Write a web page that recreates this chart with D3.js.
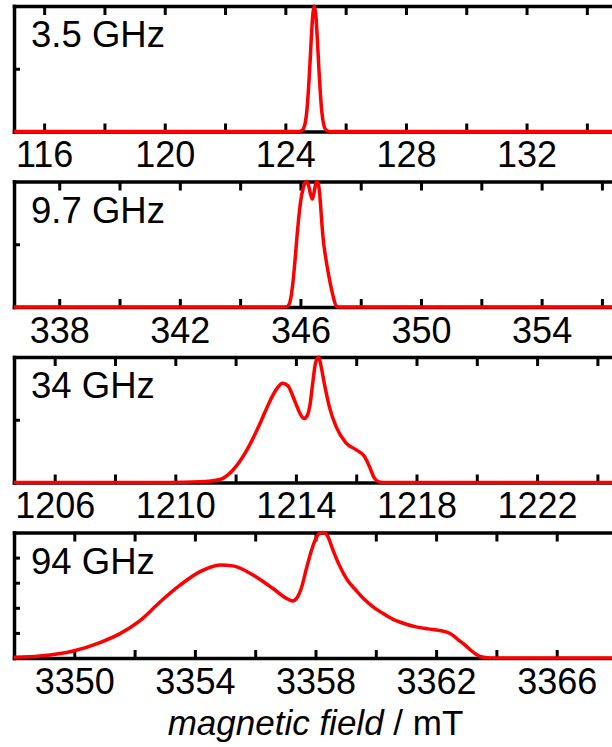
<!DOCTYPE html>
<html>
<head>
<meta charset="utf-8">
<script src="https://cdn.jsdelivr.net/npm/d3@7"></script>
<style>
  html, body { margin: 0; padding: 0; background: #fff; }
  svg { display: block; }
</style>
</head>
<body>
<svg id="chart" width="612" height="747"></svg>
<script>
// EPR absorption spectra at four microwave frequencies (normalised intensity vs field in mT)

const frequencyLabels = ["3.5 GHz", "9.7 GHz", "34 GHz", "94 GHz"];

const fieldDomains = [[115, 135], [336.5, 356.5], [1204.65, 1224.65], [3348, 3368]];

const minorTicks35 = [116, 118, 120, 122, 124, 126, 128, 130, 132, 134];
const tickLabels35 = [116, 120, 124, 128, 132];
const minorTicks97 = [338, 340, 342, 344, 346, 348, 350, 352, 354, 356];
const tickLabels97 = [338, 342, 346, 350, 354];
const minorTicks34 = [1206, 1208, 1210, 1212, 1214, 1216, 1218, 1220, 1222, 1224];
const tickLabels34 = [1206, 1210, 1214, 1218, 1222];
const minorTicks94 = [3350, 3352, 3354, 3356, 3358, 3360, 3362, 3364, 3366, 3368];
const tickLabels94 = [3350, 3354, 3358, 3362, 3366];

const intensityTicks = [[0.5], [0.5], [0.5], [0.2, 0.4, 0.6, 0.8]];

const field35 = [115, 124.3, 124.46, 124.56, 124.61, 124.66, 124.71, 124.76, 124.81, 124.86, 124.91, 124.96,
  125.01, 125.06, 125.11, 125.16, 125.21, 125.26, 125.31, 125.36, 125.46, 125.6, 135];
const signal35 = [0, 0, 0.001, 0.009, 0.027, 0.07, 0.157, 0.31, 0.51, 0.74, 0.93, 1.0,
  0.93, 0.74, 0.51, 0.31, 0.157, 0.07, 0.027, 0.009, 0.001, 0, 0];

const field97 = [336.5, 345.4, 345.545, 345.621, 345.687, 345.754, 345.82, 345.886, 345.953, 346.019, 346.085,
  346.151, 346.208, 346.268, 346.334, 346.394, 346.45, 346.507, 346.56, 346.616, 346.666, 346.716, 346.765,
  346.815, 346.881, 346.948, 347.014, 347.08, 347.147, 347.213, 347.28, 356.5];
const signal97 = [0, 0, 0.003, 0.02, 0.08, 0.2, 0.37, 0.56, 0.73, 0.86, 0.94,
  0.99, 1.0, 0.97, 0.9, 0.86, 0.91, 0.98, 1.0, 0.95, 0.82, 0.65, 0.52,
  0.43, 0.33, 0.24, 0.16, 0.09, 0.03, 0.003, 0, 0];

const field34 = [1204.65, 1209.8, 1210.82, 1211.48, 1211.914, 1212.378, 1212.81, 1213.14, 1213.373, 1213.562,
  1213.738, 1213.904, 1214.07, 1214.17, 1214.27, 1214.37, 1214.468, 1214.557, 1214.65, 1214.756, 1214.832,
  1214.942, 1215.108, 1215.33, 1215.66, 1215.99, 1216.27, 1216.435, 1216.6, 1216.756, 1216.95, 1224.65];
const signal34 = [0, 0, 0.005, 0.024, 0.10, 0.26, 0.47, 0.65, 0.75, 0.79,
  0.77, 0.685, 0.585, 0.535, 0.51, 0.53, 0.62, 0.79, 0.95, 1.0, 0.93,
  0.79, 0.605, 0.447, 0.315, 0.262, 0.209, 0.13, 0.037, 0.005, 0, 0];

const field94 = [3348, 3348.862, 3349.967, 3350.852, 3351.516, 3352.179, 3352.842, 3353.506, 3354.169, 3354.833,
  3355.264, 3355.927, 3356.59, 3357.045, 3357.244, 3357.386, 3357.542, 3357.685, 3357.884, 3358.05, 3358.15,
  3358.24, 3358.33, 3358.415, 3358.58, 3358.79, 3359.045, 3359.343, 3359.61, 3359.897, 3360.206, 3360.56,
  3360.935, 3361.333, 3361.73, 3362.106, 3362.36, 3362.56, 3362.76, 3362.99, 3363.16, 3363.323, 3363.49,
  3363.69, 3363.95, 3368];
const signal94 = [0.005, 0.016, 0.056, 0.123, 0.194, 0.298, 0.446, 0.58, 0.688, 0.742,
  0.734, 0.661, 0.554, 0.474, 0.455, 0.48, 0.566, 0.70, 0.87, 0.97, 0.995,
  1.0, 0.995, 0.965, 0.86, 0.74, 0.625, 0.54, 0.47, 0.41, 0.36, 0.31,
  0.275, 0.248, 0.232, 0.22, 0.206, 0.18, 0.14, 0.097, 0.06, 0.03, 0.01,
  0.002, 0, 0];

const panels = [
  { label: frequencyLabels[0], domain: fieldDomains[0], minor: minorTicks35, labelled: tickLabels35, yTicks: intensityTicks[0], field: field35, signal: signal35 },
  { label: frequencyLabels[1], domain: fieldDomains[1], minor: minorTicks97, labelled: tickLabels97, yTicks: intensityTicks[1], field: field97, signal: signal97 },
  { label: frequencyLabels[2], domain: fieldDomains[2], minor: minorTicks34, labelled: tickLabels34, yTicks: intensityTicks[2], field: field34, signal: signal34 },
  { label: frequencyLabels[3], domain: fieldDomains[3], minor: minorTicks94, labelled: tickLabels94, yTicks: intensityTicks[3], field: field94, signal: signal94 }
];

// layout
const FONT = "'Liberation Sans', Arial, Helvetica, sans-serif";
const left = 14, right = 617;
const firstTop = 6, pitch = 175.5, panelH = 125.5;
const axisW = 3.5, tickW = 3;

const svg = d3.select("#chart");

panels.forEach((p, i) => {
  const top = firstTop + i * pitch;
  const bottom = top + panelH;

  const x = d3.scaleLinear().domain(p.domain).range([left, right]);
  const y = d3.scaleLinear().domain([0, 1]).range([bottom, top]);

  const g = svg.append("g");

  // top frame with inward ticks
  const topAxis = g.append("g")
    .attr("transform", `translate(0,${top})`)
    .call(d3.axisTop(x).tickValues(p.minor).tickSizeInner(-9).tickSizeOuter(0).tickFormat(""));

  // left frame with inward ticks
  const leftAxis = g.append("g")
    .attr("transform", `translate(${left},0)`)
    .call(d3.axisLeft(y).tickValues(p.yTicks).tickSizeInner(-6).tickSizeOuter(0).tickFormat(""));

  // bottom axis with labels every second tick
  const bottomAxis = g.append("g")
    .attr("transform", `translate(0,${bottom})`)
    .call(d3.axisBottom(x).tickValues(p.minor).tickSizeInner(-8).tickSizeOuter(0)
      .tickPadding(10)
      .tickFormat(d => p.labelled.includes(d) ? String(d) : ""));

  [topAxis, leftAxis, bottomAxis].forEach(ax => {
    ax.select(".domain").attr("stroke", "#000").attr("stroke-width", axisW).attr("stroke-linecap", "square");
    ax.selectAll(".tick line").attr("stroke", "#000").attr("stroke-width", tickW);
  });
  bottomAxis.selectAll(".tick text")
    .attr("font-family", FONT)
    .attr("font-size", 36)
    .attr("fill", "#000");

  // spectrum
  const pts = p.field.map((f, k) => [f, p.signal[k]]);
  g.append("path")
    .datum(pts)
    .attr("fill", "none")
    .attr("stroke", "#ff0000")
    .attr("stroke-width", 3.5)
    .attr("stroke-linejoin", "round")
    .attr("d", d3.line().x(d => x(d[0])).y(d => y(d[1])).curve(d3.curveMonotoneX));

  // frequency label
  g.append("text")
    .attr("x", 31)
    .attr("y", top + 41)
    .attr("font-family", FONT)
    .attr("font-size", 36.5)
    .attr("fill", "#000")
    .text(p.label);
});

// field axis title
const title = svg.append("text")
  .attr("x", (left + right) / 2)
  .attr("y", 735)
  .attr("text-anchor", "middle")
  .attr("font-family", FONT)
  .attr("font-size", 35)
  .attr("fill", "#000");
title.append("tspan").attr("font-style", "italic").text("magnetic field");
title.append("tspan").text(" / mT");
</script>
</body>
</html>
